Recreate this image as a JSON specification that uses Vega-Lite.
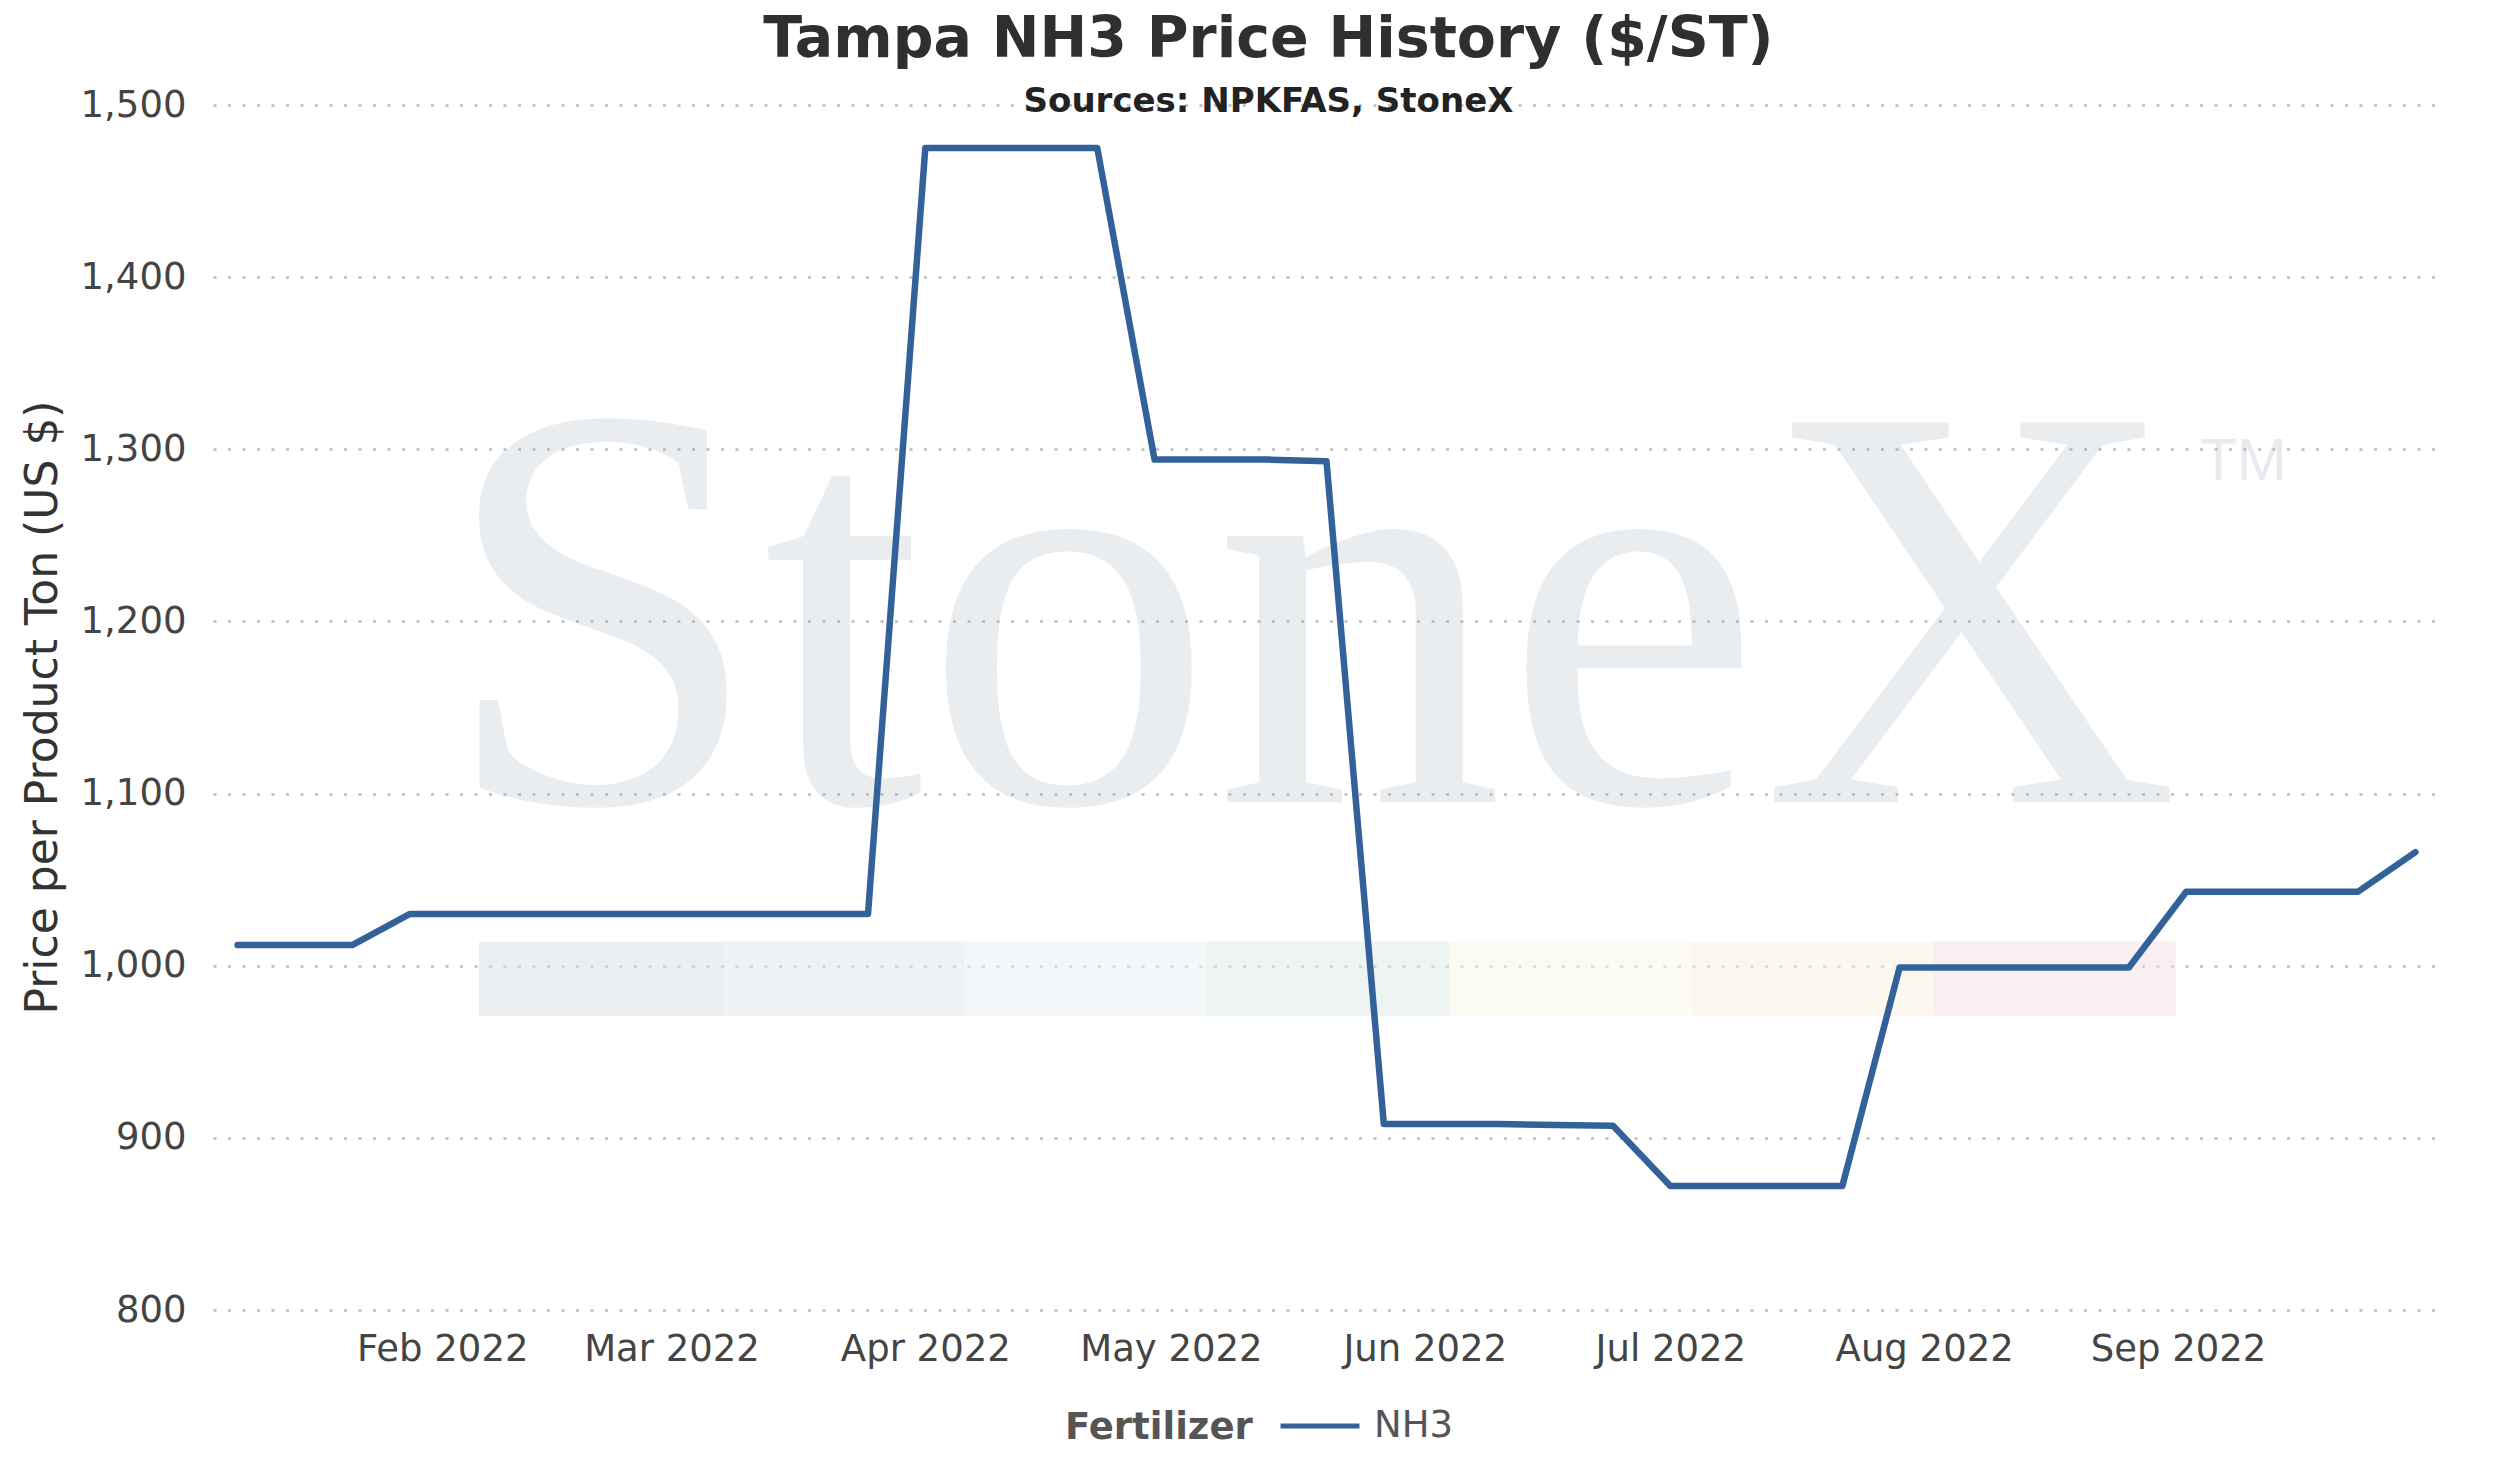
{
  "$schema": "https://vega.github.io/schema/vega-lite/v6.json",
  "width": 2227,
  "height": 1205,
  "autosize": {"type": "none"},
  "padding": {"left": 213, "top": 105, "right": 80, "bottom": 164},
  "background": "white",
  "config": {
    "font": "DejaVu Sans",
    "view": {"stroke": null}
  },
  "title": {
    "text": "Tampa NH3 Price History ($/ST)",
    "subtitle": "Sources: NPKFAS, StoneX",
    "anchor": "middle",
    "dx": -58,
    "offset": -34,
    "fontSize": 57,
    "fontWeight": "bold",
    "color": "#2f2f2f",
    "subtitleFontSize": 34,
    "subtitleFontWeight": "bold",
    "subtitleColor": "#222222",
    "subtitlePadding": 16
  },
  "datasets": {
    "nh3": [
      {"date": "2022-01-07T00:00:00", "price": 1012, "Fertilizer": "NH3"},
      {"date": "2022-01-14T00:00:00", "price": 1012, "Fertilizer": "NH3"},
      {"date": "2022-01-21T00:00:00", "price": 1012, "Fertilizer": "NH3"},
      {"date": "2022-01-28T00:00:00", "price": 1030, "Fertilizer": "NH3"},
      {"date": "2022-02-04T00:00:00", "price": 1030, "Fertilizer": "NH3"},
      {"date": "2022-02-11T00:00:00", "price": 1030, "Fertilizer": "NH3"},
      {"date": "2022-02-18T00:00:00", "price": 1030, "Fertilizer": "NH3"},
      {"date": "2022-02-25T00:00:00", "price": 1030, "Fertilizer": "NH3"},
      {"date": "2022-03-04T00:00:00", "price": 1030, "Fertilizer": "NH3"},
      {"date": "2022-03-11T00:00:00", "price": 1030, "Fertilizer": "NH3"},
      {"date": "2022-03-18T00:00:00", "price": 1030, "Fertilizer": "NH3"},
      {"date": "2022-03-25T00:00:00", "price": 1030, "Fertilizer": "NH3"},
      {"date": "2022-04-01T00:00:00", "price": 1475, "Fertilizer": "NH3"},
      {"date": "2022-04-08T00:00:00", "price": 1475, "Fertilizer": "NH3"},
      {"date": "2022-04-15T00:00:00", "price": 1475, "Fertilizer": "NH3"},
      {"date": "2022-04-22T00:00:00", "price": 1475, "Fertilizer": "NH3"},
      {"date": "2022-04-29T00:00:00", "price": 1294, "Fertilizer": "NH3"},
      {"date": "2022-05-06T00:00:00", "price": 1294, "Fertilizer": "NH3"},
      {"date": "2022-05-13T00:00:00", "price": 1294, "Fertilizer": "NH3"},
      {"date": "2022-05-20T00:00:00", "price": 1293, "Fertilizer": "NH3"},
      {"date": "2022-05-27T00:00:00", "price": 908, "Fertilizer": "NH3"},
      {"date": "2022-06-03T00:00:00", "price": 908, "Fertilizer": "NH3"},
      {"date": "2022-06-10T00:00:00", "price": 908, "Fertilizer": "NH3"},
      {"date": "2022-06-17T00:00:00", "price": 907.5, "Fertilizer": "NH3"},
      {"date": "2022-06-24T00:00:00", "price": 907, "Fertilizer": "NH3"},
      {"date": "2022-07-01T00:00:00", "price": 872, "Fertilizer": "NH3"},
      {"date": "2022-07-08T00:00:00", "price": 872, "Fertilizer": "NH3"},
      {"date": "2022-07-15T00:00:00", "price": 872, "Fertilizer": "NH3"},
      {"date": "2022-07-22T00:00:00", "price": 872, "Fertilizer": "NH3"},
      {"date": "2022-07-29T00:00:00", "price": 999, "Fertilizer": "NH3"},
      {"date": "2022-08-05T00:00:00", "price": 999, "Fertilizer": "NH3"},
      {"date": "2022-08-12T00:00:00", "price": 999, "Fertilizer": "NH3"},
      {"date": "2022-08-19T00:00:00", "price": 999, "Fertilizer": "NH3"},
      {"date": "2022-08-26T00:00:00", "price": 999, "Fertilizer": "NH3"},
      {"date": "2022-09-02T00:00:00", "price": 1043, "Fertilizer": "NH3"},
      {"date": "2022-09-09T00:00:00", "price": 1043, "Fertilizer": "NH3"},
      {"date": "2022-09-16T00:00:00", "price": 1043, "Fertilizer": "NH3"},
      {"date": "2022-09-23T00:00:00", "price": 1043, "Fertilizer": "NH3"},
      {"date": "2022-09-30T00:00:00", "price": 1066, "Fertilizer": "NH3"}
    ],
    "band": [
      {"seg": "a", "date": "2022-02-05T12:00:00", "date2": "2022-03-07T07:00:00", "price": 971, "price2": 1014},
      {"seg": "b", "date": "2022-03-07T07:00:00", "date2": "2022-04-05T19:00:00", "price": 971, "price2": 1014},
      {"seg": "c", "date": "2022-04-05T19:00:00", "date2": "2022-05-05T07:00:00", "price": 971, "price2": 1014},
      {"seg": "d", "date": "2022-05-05T07:00:00", "date2": "2022-06-04T00:00:00", "price": 971, "price2": 1014},
      {"seg": "e", "date": "2022-06-04T00:00:00", "date2": "2022-07-03T17:00:00", "price": 971, "price2": 1014},
      {"seg": "f", "date": "2022-07-03T17:00:00", "date2": "2022-08-02T02:00:00", "price": 971, "price2": 1014},
      {"seg": "g", "date": "2022-08-02T02:00:00", "date2": "2022-08-31T17:00:00", "price": 971, "price2": 1014}
    ],
    "watermark": [
      {"label": "StoneX", "date": "2022-05-18T00:00:00", "price": 1095},
      {"label": "TM", "date": "2022-09-09T00:00:00", "price": 1282}
    ]
  },
  "encoding": {
    "x": {
      "field": "date",
      "type": "temporal",
      "scale": {"domain": [{"year": 2022, "month": 1, "date": 4}, {"year": 2022, "month": 10, "date": 3}]},
      "axis": {
        "title": null,
        "grid": false,
        "ticks": false,
        "domain": false,
        "format": "%b %Y",
        "labelFontSize": 37,
        "labelColor": "#444444",
        "labelPadding": 21,
        "labelFlush": false,
        "labelOverlap": false,
        "labelLimit": 0,
        "values": [
          {"year": 2022, "month": 2, "date": 1},
          {"year": 2022, "month": 3, "date": 1},
          {"year": 2022, "month": 4, "date": 1},
          {"year": 2022, "month": 5, "date": 1},
          {"year": 2022, "month": 6, "date": 1},
          {"year": 2022, "month": 7, "date": 1},
          {"year": 2022, "month": 8, "date": 1},
          {"year": 2022, "month": 9, "date": 1}
        ]
      }
    },
    "y": {
      "field": "price",
      "type": "quantitative",
      "scale": {"domain": [800, 1500], "nice": false, "zero": false},
      "axis": {
        "title": "Price per Product Ton (US $)",
        "titleFontSize": 44,
        "titleFontWeight": "normal",
        "titleColor": "#333333",
        "titleAngle": -90,
        "titleAlign": "center",
        "titleBaseline": "middle",
        "titleX": -170,
        "titleY": 602,
        "titleLimit": 0,
        "values": [800, 900, 1000, 1100, 1200, 1300, 1400, 1500],
        "format": ",d",
        "labelFontSize": 37,
        "labelColor": "#444444",
        "labelPadding": 27,
        "ticks": false,
        "domain": false,
        "grid": true,
        "gridColor": "#bdbdbd",
        "gridDash": [3, 11.5],
        "gridWidth": 2.5
      }
    }
  },
  "layer": [
    {
      "data": {"name": "band"},
      "mark": {"type": "rect", "fillOpacity": 0.5},
      "encoding": {
        "x2": {"field": "date2"},
        "y2": {"field": "price2"},
        "fill": {
          "field": "seg",
          "type": "nominal",
          "legend": null,
          "scale": {"range": ["#d9dfe5", "#dde5eb", "#e7eff5", "#dde9e3", "#f7f7e7", "#f9f1df", "#f3dde1"]}
        }
      }
    },
    {
      "data": {"name": "watermark"},
      "transform": [{"filter": "datum.label == 'StoneX'"}],
      "mark": {
        "type": "text",
        "font": "Liberation Serif",
        "fontSize": 580,
        "align": "center",
        "baseline": "alphabetic",
        "color": "#9aa8b8",
        "opacity": 0.2
      },
      "encoding": {"text": {"field": "label"}}
    },
    {
      "data": {"name": "watermark"},
      "transform": [{"filter": "datum.label == 'TM'"}],
      "mark": {
        "type": "text",
        "font": "Liberation Sans",
        "fontSize": 60,
        "align": "center",
        "baseline": "alphabetic",
        "color": "#8d9cae",
        "opacity": 0.2
      },
      "encoding": {"text": {"field": "label"}}
    },
    {
      "data": {"name": "nh3"},
      "mark": {"type": "line", "strokeWidth": 6.5, "strokeCap": "round", "strokeJoin": "round"},
      "encoding": {
        "color": {
          "field": "Fertilizer",
          "type": "nominal",
          "scale": {"range": ["#33629a"]},
          "legend": {
            "orient": "none",
            "legendX": 852,
            "legendY": 1279,
            "direction": "horizontal",
            "titleOrient": "left",
            "title": "Fertilizer",
            "titleFontSize": 37,
            "titleFontWeight": "bold",
            "titleColor": "#555555",
            "titlePadding": 25,
            "titleLimit": 0,
            "titleBaseline": "line-top",
            "titleLineHeight": 29,
            "titleAnchor": "middle",
            "labelFontSize": 37,
            "labelColor": "#555555",
            "labelOffset": 12,
            "labelLimit": 0,
            "symbolType": "stroke",
            "symbolSize": 6241,
            "symbolStrokeWidth": 5,
            "padding": 0
          }
        }
      }
    }
  ]
}
